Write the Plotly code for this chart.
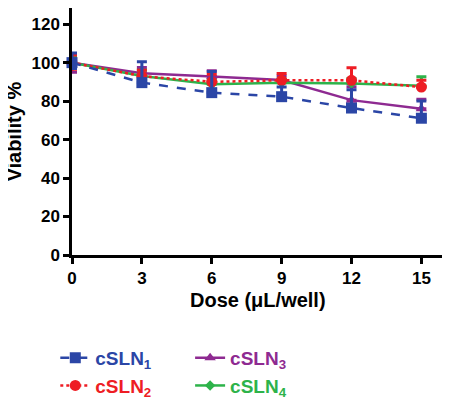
import plotly.graph_objects as go

dose = [0, 3, 6, 9, 12, 15]
names = ["cSLN<sub>1</sub>", "cSLN<sub>2</sub>", "cSLN<sub>3</sub>", "cSLN<sub>4</sub>"]
x_title = "Dose (\u03bcL/well)"
y_title = "Viability %"
v1 = [100, 89.6, 84.4, 82.3, 76.4, 71.1]
e1_up = [5, 10.8, 11, 5, 9.5, 9]
e1_dn = [3, 0, 0, 0, 0, 0]
v2 = [100, 93, 90, 90.8, 90.8, 87.3]
e2_up = [4, 3, 4, 3.5, 6.6, 3.5]
e2_dn = [3.5, 0, 0, 0, 0, 0]
v3 = [100, 94.5, 92.8, 91, 80.5, 76]
e3_up = [4, 3, 3, 2, 7, 5]
e3_dn = [5, 0, 0, 0, 0, 0]
v4 = [100, 93, 88.8, 89.5, 89.2, 88]
e4_up = [3, 3, 2, 2, 2.5, 4.7]
e4_dn = [3, 0, 0, 0, 0, 0]

colors = ["#2B46A6", "#EE1D24", "#8E2A91", "#2DB34A"]
dashes = ["dash", "dot", "solid", "solid"]
symbols = ["square", "circle", "triangle-up", "diamond"]
msizes = [11, 11, 10, 8]
legends = ["legend", "legend", "legend2", "legend2"]

fig = go.Figure()
# draw order: purple, green, red, blue (blue on top as in reference)
order = [2, 3, 1, 0]
series = [(v1, e1_up, e1_dn), (v2, e2_up, e2_dn), (v3, e3_up, e3_dn), (v4, e4_up, e4_dn)]
for i in order:
    v, eu, ed = series[i]
    c = colors[i]
    fig.add_trace(go.Scatter(
        x=dose, y=v, mode="lines+markers",
        name=f"<b><span style='color:{c}'>{names[i]}</span></b>",
        line=dict(color=c, width=2.5, dash=dashes[i]),
        marker=dict(symbol=symbols[i], size=msizes[i], color=c),
        error_y=dict(type="data", symmetric=False, array=eu, arrayminus=ed,
                     color=c, thickness=3, width=5),
        cliponaxis=False, legend=legends[i], legendrank=i + 1,
    ))

axis_font = dict(family="Liberation Sans, Arial", size=17, color="black")
title_font = dict(family="Liberation Sans, Arial", size=20, color="black")
leg_font = dict(size=19, family="Liberation Sans, Arial")
fig.update_layout(
    width=442, height=397,
    margin=dict(l=64, r=3, t=0, b=150, autoexpand=False),
    plot_bgcolor="white", paper_bgcolor="white",
    font=dict(family="Liberation Sans, Arial", color="black"),
    xaxis=dict(range=[0, 16.1], tickvals=dose, ticktext=[f"<b>{t}</b>" for t in dose],
               showgrid=False, zeroline=False, showline=True, linecolor="black", linewidth=2.5,
               ticks="outside", ticklen=6, tickwidth=2.5, tickcolor="black",
               tickfont=axis_font, automargin=False),
    yaxis=dict(range=[0, 128.4], tickvals=[0, 20, 40, 60, 80, 100, 120],
               ticktext=[f"<b>{t}</b>" for t in [0, 20, 40, 60, 80, 100, 120]],
               showgrid=False, zeroline=False, showline=True, linecolor="black", linewidth=2.5,
               ticks="outside", ticklen=6, tickwidth=2.5, tickcolor="black",
               tickfont=axis_font, automargin=False),
    legend=dict(xref="container", yref="container", x=0.107, y=0.1665,
                xanchor="left", yanchor="top", orientation="v",
                font=leg_font, bgcolor="rgba(0,0,0,0)", tracegroupgap=9),
    legend2=dict(xref="container", yref="container", x=0.412, y=0.1665,
                 xanchor="left", yanchor="top", orientation="v",
                 font=leg_font, bgcolor="rgba(0,0,0,0)", tracegroupgap=9),
    showlegend=True,
    annotations=[
        dict(text=f"<b>{x_title}</b>", xref="paper", yref="paper", x=0.496, y=0,
             xanchor="center", yanchor="middle", yshift=-45, showarrow=False, font=title_font),
        dict(text=f"<b>{y_title}</b>", xref="paper", yref="paper", x=0, y=0.5,
             xanchor="center", yanchor="middle", xshift=-59, textangle=-90,
             showarrow=False, font=title_font),
    ],
)

fig.write_html("out.html")
